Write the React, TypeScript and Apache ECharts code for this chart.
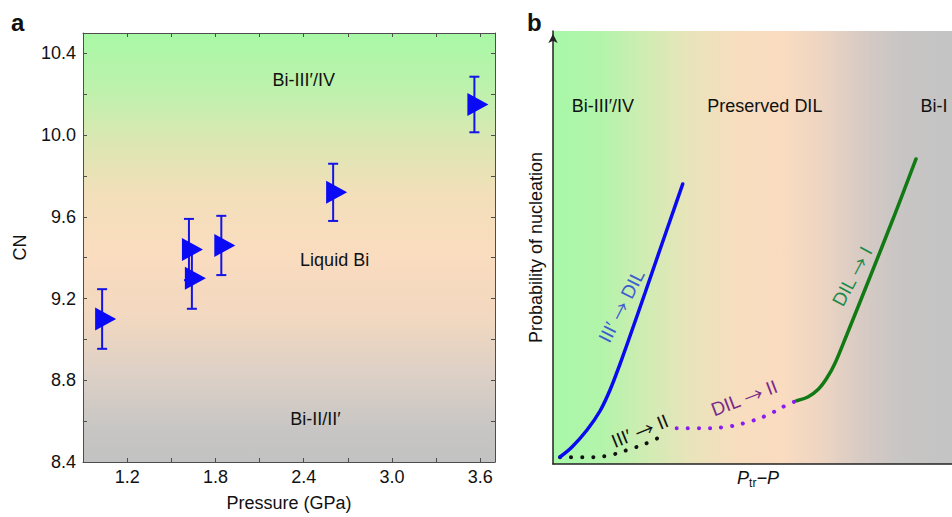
import React, { useEffect, useRef } from 'react';
import * as echarts from 'echarts';

const FONT = '"Liberation Sans", Arial, Helvetica, sans-serif';

// ---------- Panel a: CN vs pressure ----------
const pressureGPa = [1.03, 1.62, 1.64, 1.84, 2.6, 3.56];
const coordinationNumber = [9.1, 9.44, 9.3, 9.46, 9.72, 10.15];
const cnError = [0.146, 0.15, 0.15, 0.145, 0.14, 0.136];
const xTickLabels = ['1.2', '1.8', '2.4', '3.0', '3.6'];
const yTickLabels = ['8.4', '8.8', '9.2', '9.6', '10.0', '10.4'];
const phaseNamesA = ['Bi-III′/IV', 'Liquid Bi', 'Bi-II/II′'];
const phaseXA = [2.4, 2.61, 2.48];
const phaseYA = [10.27, 9.39, 8.61];

// ---------- Panel b: schematic nucleation probability (arbitrary units 0-100) ----------
const curveIIItoDIL = [
  [1.75, 1.62], [4.76, 3.93], [8.52, 7.85], [11.78, 12.24], [14.29, 17.09], [16.79, 23.09],
  [19.3, 29.56], [23.06, 39.49], [26.82, 49.54], [29.82, 57.51], [32.51, 64.67],
];
const curveIIItoII = [
  [1.75, 1.55], [7.44, 1.55], [13.21, 1.85], [18.62, 3.23], [24.06, 5.01], [26.64, 6.17],
];
const curveDILtoII = [
  [31.0, 8.24], [36.84, 8.24], [42.53, 8.48], [48.05, 9.47], [53.38, 11.15], [58.57, 13.63], [61.08, 14.62],
];
const curveDILtoI = [
  [61.08, 14.62], [63.98, 15.54], [66.49, 17.25], [68.6, 19.79], [70.68, 23.26], [73.61, 29.79],
  [79.45, 43.19], [85.21, 56.58], [90.98, 70.44],
];
const regionNamesB = ['Bi-III′/IV', 'Preserved DIL', 'Bi-I'];
const regionXB = [12.5, 53.1, 95.5];
const regionYB = [82.7, 82.7, 82.7];
// label text split around the arrow: [before, after]
const curveLabelBefore = ['III′', 'III′', 'DIL', 'DIL'];
const curveLabelAfter = ['DIL', 'II', 'II', 'I'];
const curveLabelX = [17.2, 21.8, 47.9, 75.0];
const curveLabelY = [36.5, 7.6, 15.2, 43.3];
const curveLabelAngle = [63, 22, 21, 62];
const curveLabelColors = ['#3d5ccf', '#111111', '#7a2a8c', '#1c8a4a'];

const fmt1 = (v: number) => (Math.round(v * 10) / 10).toFixed(1);

export default function App() {
  const ref = useRef<HTMLDivElement>(null);

  useEffect(() => {
    document.body.style.margin = '0';
    const chart = echarts.init(ref.current!, null, { renderer: 'svg' });

    const gradA = new echarts.graphic.LinearGradient(0, 0, 0, 1, [
      { offset: 0, color: '#a8f8a6' },
      { offset: 0.14, color: '#bff1ad' },
      { offset: 0.25, color: '#dbe7b2' },
      { offset: 0.38, color: '#f3dfba' },
      { offset: 0.52, color: '#fadcbf' },
      { offset: 0.66, color: '#f2d8c0' },
      { offset: 0.8, color: '#dcd0c6' },
      { offset: 0.92, color: '#c8c6c4' },
      { offset: 1, color: '#c2c2c2' },
    ]);
    const gradB = new echarts.graphic.LinearGradient(0, 0, 1, 0, [
      { offset: 0, color: '#a8f8a8' },
      { offset: 0.12, color: '#b2f4aa' },
      { offset: 0.22, color: '#cdedb2' },
      { offset: 0.34, color: '#e8e4ba' },
      { offset: 0.47, color: '#f8ddbf' },
      { offset: 0.57, color: '#fadcc0' },
      { offset: 0.67, color: '#eed5c2' },
      { offset: 0.77, color: '#d8cbc4' },
      { offset: 0.87, color: '#c8c5c4' },
      { offset: 1, color: '#c4c4c4' },
    ]);

    const axisColorA = '#4d4d4d';
    const tickA = { show: true, inside: true, length: 4, lineStyle: { color: axisColorA, width: 1 } };
    const lineA = { show: true, lineStyle: { color: axisColorA, width: 1 } };
    const labelStyle = { fontFamily: FONT, fontSize: 18, color: '#111' };

    const transparent = { color: 'rgba(0,0,0,0)', opacity: 1 };

    const option: any = {
      animation: false,
      graphic: [
        { type: 'text', x: 11, y: 22, style: { text: 'a', font: `bold 24px ${FONT}`, fill: '#111', textVerticalAlign: 'middle' } },
        { type: 'text', x: 527, y: 22, style: { text: 'b', font: `bold 24px ${FONT}`, fill: '#111', textVerticalAlign: 'middle' } },
      ],
      grid: [
        { left: 83, top: 33, width: 412, height: 434, show: true, backgroundColor: gradA, borderWidth: 0 },
        { left: 553, top: 31, width: 399, height: 433, show: true, backgroundColor: gradB, borderWidth: 0 },
      ],
      xAxis: [
        {
          gridIndex: 0, type: 'value', min: 0.9, max: 3.7, interval: 0.3,
          axisLine: lineA, axisTick: tickA, splitLine: { show: false },
          axisLabel: {
            ...labelStyle, margin: 6, showMinLabel: true,
            formatter: (v: number) => (xTickLabels.includes(fmt1(v)) ? fmt1(v) : ''),
          },
          name: 'Pressure (GPa)', nameLocation: 'middle', nameGap: 32, nameTextStyle: labelStyle,
        },
        {
          gridIndex: 0, type: 'value', position: 'top', min: 0.9, max: 3.7, interval: 0.3,
          axisLine: lineA, axisTick: tickA, splitLine: { show: false }, axisLabel: { show: false },
        },
        {
          gridIndex: 1, type: 'value', min: 0, max: 100,
          axisLine: { show: true, lineStyle: { color: '#222', width: 1.5 } },
          axisTick: { show: false }, axisLabel: { show: false }, splitLine: { show: false },
          name: '{i|P}{s|tr}{i|−P}', nameLocation: 'middle', nameGap: 5,
          nameTextStyle: {
            padding: [0, 0, 0, 11],
            rich: {
              i: { fontFamily: FONT, fontSize: 18, fontStyle: 'italic', color: '#111', lineHeight: 20, verticalAlign: 'top' },
              s: { fontFamily: FONT, fontSize: 12, color: '#111', lineHeight: 14, padding: [13, 0, 0, 0], verticalAlign: 'bottom' },
            },
          },
        },
      ],
      yAxis: [
        {
          gridIndex: 0, type: 'value', min: 8.4, max: 10.5, interval: 0.2,
          axisLine: lineA, axisTick: tickA, splitLine: { show: false },
          axisLabel: {
            ...labelStyle, margin: 7, showMinLabel: true,
            formatter: (v: number) => (yTickLabels.includes(fmt1(v)) ? fmt1(v) : ''),
          },
          name: 'CN', nameLocation: 'middle', nameGap: 54, nameTextStyle: labelStyle,
        },
        {
          gridIndex: 0, type: 'value', position: 'right', min: 8.4, max: 10.5, interval: 0.2,
          axisLine: lineA, axisTick: tickA, splitLine: { show: false }, axisLabel: { show: false },
        },
        {
          gridIndex: 1, type: 'value', min: 0, max: 100,
          axisLine: {
            show: true, symbol: ['none', 'arrow'], symbolSize: [7, 9], symbolOffset: [0, -3],
            lineStyle: { color: '#222', width: 1.5 },
          },
          axisTick: { show: false }, axisLabel: { show: false }, splitLine: { show: false },
          name: 'Probability of nucleation', nameLocation: 'middle', nameGap: 8, nameTextStyle: labelStyle,
        },
      ],
      series: [
        {
          type: 'scatter', xAxisIndex: 0, yAxisIndex: 0, symbolSize: 1, itemStyle: transparent, silent: true,
          data: phaseNamesA.map((n, i) => ({ name: n, value: [phaseXA[i], phaseYA[i]] })),
          label: { show: true, position: 'inside', formatter: '{b}', ...labelStyle, opacity: 1 },
          z: 1,
        },
        {
          type: 'custom', xAxisIndex: 0, yAxisIndex: 0,
          data: pressureGPa.map((p, i) => [p, coordinationNumber[i], cnError[i]]),
          renderItem: (params: any, api: any) => {
            const x = api.value(0), y = api.value(1), e = api.value(2);
            const top = api.coord([x, y + e]);
            const bot = api.coord([x, y - e]);
            const hw = 5;
            const style = { stroke: '#1414e6', lineWidth: 2 };
            return {
              type: 'group',
              children: [
                { type: 'line', shape: { x1: top[0], y1: top[1], x2: bot[0], y2: bot[1] }, style },
                { type: 'line', shape: { x1: top[0] - hw, y1: top[1], x2: top[0] + hw, y2: top[1] }, style },
                { type: 'line', shape: { x1: bot[0] - hw, y1: bot[1], x2: bot[0] + hw, y2: bot[1] }, style },
              ],
            };
          },
          z: 2,
        },
        {
          type: 'scatter', xAxisIndex: 0, yAxisIndex: 0,
          data: pressureGPa.map((p, i) => [p, coordinationNumber[i]]),
          symbol: 'path://M0,0L1,0.5L0,1Z', symbolSize: [21, 23], symbolOffset: [3.5, 0],
          itemStyle: { color: '#0a0af5', opacity: 1 },
          z: 3,
        },
        {
          type: 'line', xAxisIndex: 2, yAxisIndex: 2, data: curveIIItoII, smooth: 0.4, symbol: 'none',
          lineStyle: { color: '#111', width: 4, type: [0.1, 11], cap: 'round' },
        },
        {
          type: 'line', xAxisIndex: 2, yAxisIndex: 2, data: curveDILtoII, smooth: 0.4, symbol: 'none',
          lineStyle: { color: '#8a1cf2', width: 4, type: [0.1, 11], cap: 'round' },
        },
        {
          type: 'line', xAxisIndex: 2, yAxisIndex: 2, data: curveIIItoDIL, smooth: 0.35, symbol: 'none',
          lineStyle: { color: '#0a0af0', width: 3.5, cap: 'round' },
        },
        {
          type: 'line', xAxisIndex: 2, yAxisIndex: 2, data: curveDILtoI, smooth: 0.35, symbol: 'none',
          lineStyle: { color: '#117a14', width: 3.5, cap: 'round' },
        },
        {
          type: 'scatter', xAxisIndex: 2, yAxisIndex: 2, symbolSize: 1, itemStyle: transparent, silent: true,
          data: regionNamesB.map((n, i) => ({ name: n, value: [regionXB[i], regionYB[i]] })),
          label: { show: true, position: 'inside', formatter: '{b}', ...labelStyle, opacity: 1 },
        },
        {
          type: 'scatter', xAxisIndex: 2, yAxisIndex: 2, symbolSize: 1, itemStyle: transparent, silent: true,
          data: curveLabelBefore.map((b, i) => ({
            name: `${b} → ${curveLabelAfter[i]}`,
            value: [curveLabelX[i], curveLabelY[i]],
            label: {
              rotate: curveLabelAngle[i], color: curveLabelColors[i],
              formatter: `${b} {a|→} ${curveLabelAfter[i]}`,
              rich: { a: { fontFamily: '"Noto Sans CJK SC", "DejaVu Sans", sans-serif', fontSize: 19, color: curveLabelColors[i] } },
            },
          })),
          label: { show: true, position: 'inside', fontFamily: FONT, fontSize: 19, opacity: 1 },
        },
      ],
    };

    chart.setOption(option);
    return () => chart.dispose();
  }, []);

  return <div ref={ref} style={{ position: 'absolute', left: 0, top: 0, width: 952, height: 517 }} />;
}
